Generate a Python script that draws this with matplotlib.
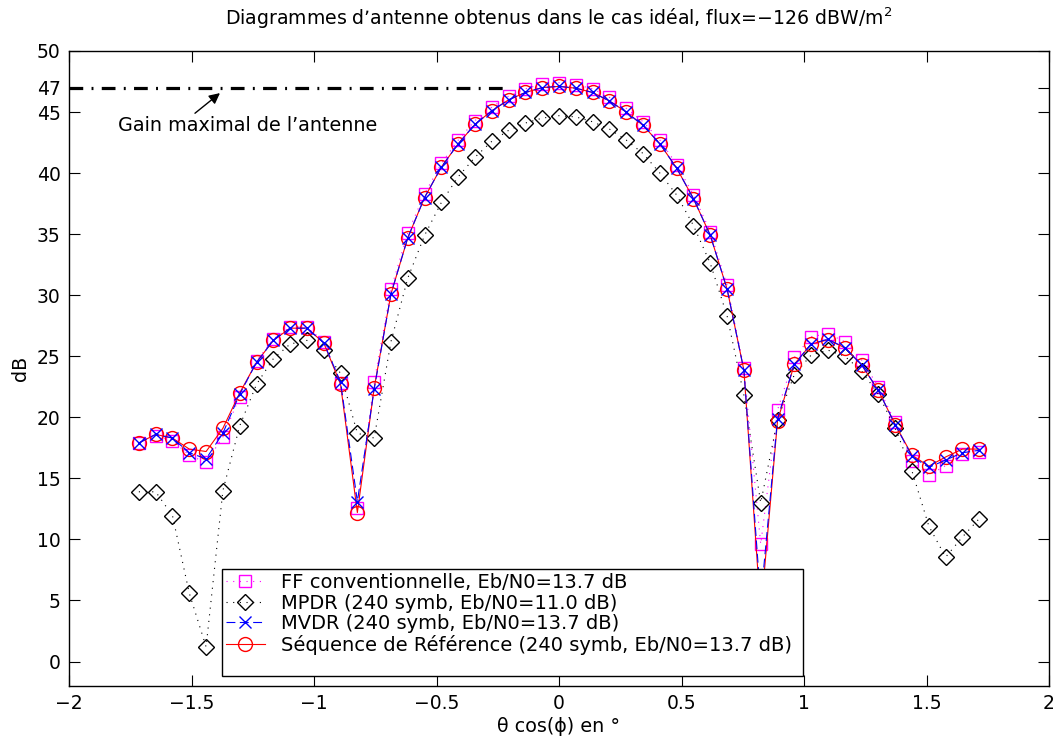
import numpy as np
import matplotlib
matplotlib.use("Agg")
import matplotlib.pyplot as plt
from matplotlib.patches import Rectangle

plt.rcParams['font.family'] = ['DejaVu Sans']
plt.rcParams['mathtext.fontset'] = 'dejavusans'
plt.rcParams['axes.unicode_minus'] = True

# angular grid (51 steering directions)
theta = np.round(np.linspace(-1.715, 1.715, 51), 4)

# FF conventionnelle
ff = [17.9, 18.5, 18.1, 16.9, 16.3, 18.4, 21.7, 24.6, 26.4, 27.4,
      27.4, 26.2, 22.8, 12.6, 22.9, 30.5, 35.1, 38.3, 40.8, 42.7,
      44.3, 45.4, 46.3, 46.9, 47.3, 47.4, 47.25, 46.9, 46.2, 45.3,
      44.2, 42.7, 40.7, 38.2, 35.2, 30.8, 24.0, 9.6, 20.6, 24.9,
      26.6, 26.85, 26.2, 24.7, 22.5, 19.6, 16.4, 15.25, 16.05, 17.0,
      17.2]

# MPDR, 240 symboles
mpdr = [13.9, 13.9, 11.95, 5.6, 1.2, 14.0, 19.3, 22.7, 24.8, 26.0,
        26.3, 25.5, 23.6, 18.7, 18.3, 26.2, 31.4, 34.9, 37.6, 39.7,
        41.3, 42.6, 43.5, 44.1, 44.5, 44.7, 44.6, 44.2, 43.6, 42.7,
        41.6, 40.0, 38.2, 35.7, 32.6, 28.3, 21.8, 13.0, 19.8, 23.5,
        25.1, 25.5, 25.0, 23.8, 21.9, 19.1, 15.6, 11.1, 8.55, 10.2,
        11.7]

# MVDR, 240 symboles
mvdr = [17.9, 18.6, 18.3, 17.1, 16.6, 18.7, 21.9, 24.5, 26.3, 27.3,
        27.3, 26.1, 22.9, 13.1, 22.3, 30.1, 34.7, 38.0, 40.5, 42.4,
        44.0, 45.1, 46.0, 46.6, 47.0, 47.1, 46.95, 46.6, 45.9, 45.0,
        43.9, 42.4, 40.4, 37.9, 34.9, 30.5, 23.85, 5.0, 19.9, 24.35,
        26.0, 26.4, 25.7, 24.3, 22.2, 19.4, 16.8, 15.9, 16.5, 17.1,
        17.3]

# sequence de reference, 240 symboles
ref = [17.9, 18.6, 18.3, 17.4, 17.2, 19.1, 22.0, 24.5, 26.3, 27.3,
       27.3, 26.1, 22.7, 12.2, 22.4, 30.1, 34.7, 38.0, 40.5, 42.4,
       44.0, 45.1, 46.0, 46.6, 47.0, 47.1, 46.95, 46.6, 45.9, 45.0,
       43.9, 42.4, 40.4, 37.9, 34.9, 30.5, 23.85, 4.0, 19.7, 24.35,
       26.0, 26.35, 25.7, 24.3, 22.2, 19.4, 16.9, 16.0, 16.75, 17.4,
       17.4]

labels = ["FF conventionnelle, Eb/N0=13.7 dB",
          "MPDR (240 symb, Eb/N0=11.0 dB)",
          "MVDR (240 symb, Eb/N0=13.7 dB)",
          "Séquence de Référence (240 symb, Eb/N0=13.7 dB)"]

gain_max = 47
gain_x = [-2, -0.2]

xticks = [-2, -1.5, -1, -0.5, 0, 0.5, 1, 1.5, 2]
yticks = [0, 5, 10, 15, 20, 25, 30, 35, 40, 45, 47, 50]


def main():
    fig = plt.figure(figsize=(10.54, 7.44), dpi=100)
    ax = fig.add_axes([0.0655, 0.078, 0.9298, 0.8535])

    dots = (0, (1, 5))
    h_ff, = ax.plot(theta, ff, color='#ff00ff', ls=dots, lw=0.8,
                    marker='s', ms=8, mfc='none', mew=1)
    h_mpdr, = ax.plot(theta, mpdr, color='k', ls=dots, lw=0.8, marker='D',
                      ms=8.5, mfc='none', mew=1)
    h_ref, = ax.plot(theta, ref, color='r', ls='-', lw=0.8, marker='o',
                     ms=10, mfc='none', mew=1)
    h_mvdr, = ax.plot(theta, mvdr, color='b', ls=(0, (8, 4)), lw=0.8,
                      marker='x', ms=8, mew=1)

    # maximum antenna gain
    ax.plot(gain_x, [gain_max, gain_max], color='k', lw=2.3,
            ls=(0, (4.3, 2.6, 0.6, 2.6)))
    ax.annotate("", xy=(-1.384, 46.55), xytext=(-1.486, 44.9),
                arrowprops=dict(arrowstyle='-|>', color='k', lw=1,
                                mutation_scale=16, shrinkA=0, shrinkB=0))
    ax.text(-1.80, 43.9, "Gain maximal de l’antenne", ha='left',
            va='center', fontsize=13.8)

    ax.set_xlim(-2, 2)
    ax.set_ylim(-2, 50)
    ax.set_xticks(xticks)
    ax.set_xticklabels(["\u22122", "\u22121.5", "\u22121", "\u22120.5", "0",
                        "0.5", "1", "1.5", "2"])
    ax.set_yticks(yticks)
    ax.tick_params(direction='in', top=True, right=True, length=8,
                   labelsize=13.5, pad=6)
    for sp in ax.spines.values():
        sp.set_linewidth(1)

    ax.set_xlabel("θ cos(ϕ) en °", fontsize=13.8, labelpad=3)
    ax.set_ylabel("dB", fontsize=13.8, labelpad=5)
    ax.set_title("Diagrammes d’antenne obtenus dans le cas idéal, "
                 "flux=\u2212126 dBW/m$^2$", fontsize=13.6, pad=19)

    # legend box with extra space under the entries
    ax.add_patch(Rectangle((0.156, 0.016), 0.593, 0.168,
                           transform=ax.transAxes, facecolor='white',
                           edgecolor='k', lw=1, zorder=5))
    leg = ax.legend([h_ff, h_mpdr, h_mvdr, h_ref], labels, loc='upper left',
                    bbox_to_anchor=(0.156, 0.184), frameon=False,
                    fontsize=14, handlelength=2.0, handletextpad=0.85,
                    labelspacing=0.08, borderaxespad=0, borderpad=0.2)
    leg.set_zorder(6)

    fig.savefig("out.png", dpi=100)


if __name__ == "__main__":
    main()
